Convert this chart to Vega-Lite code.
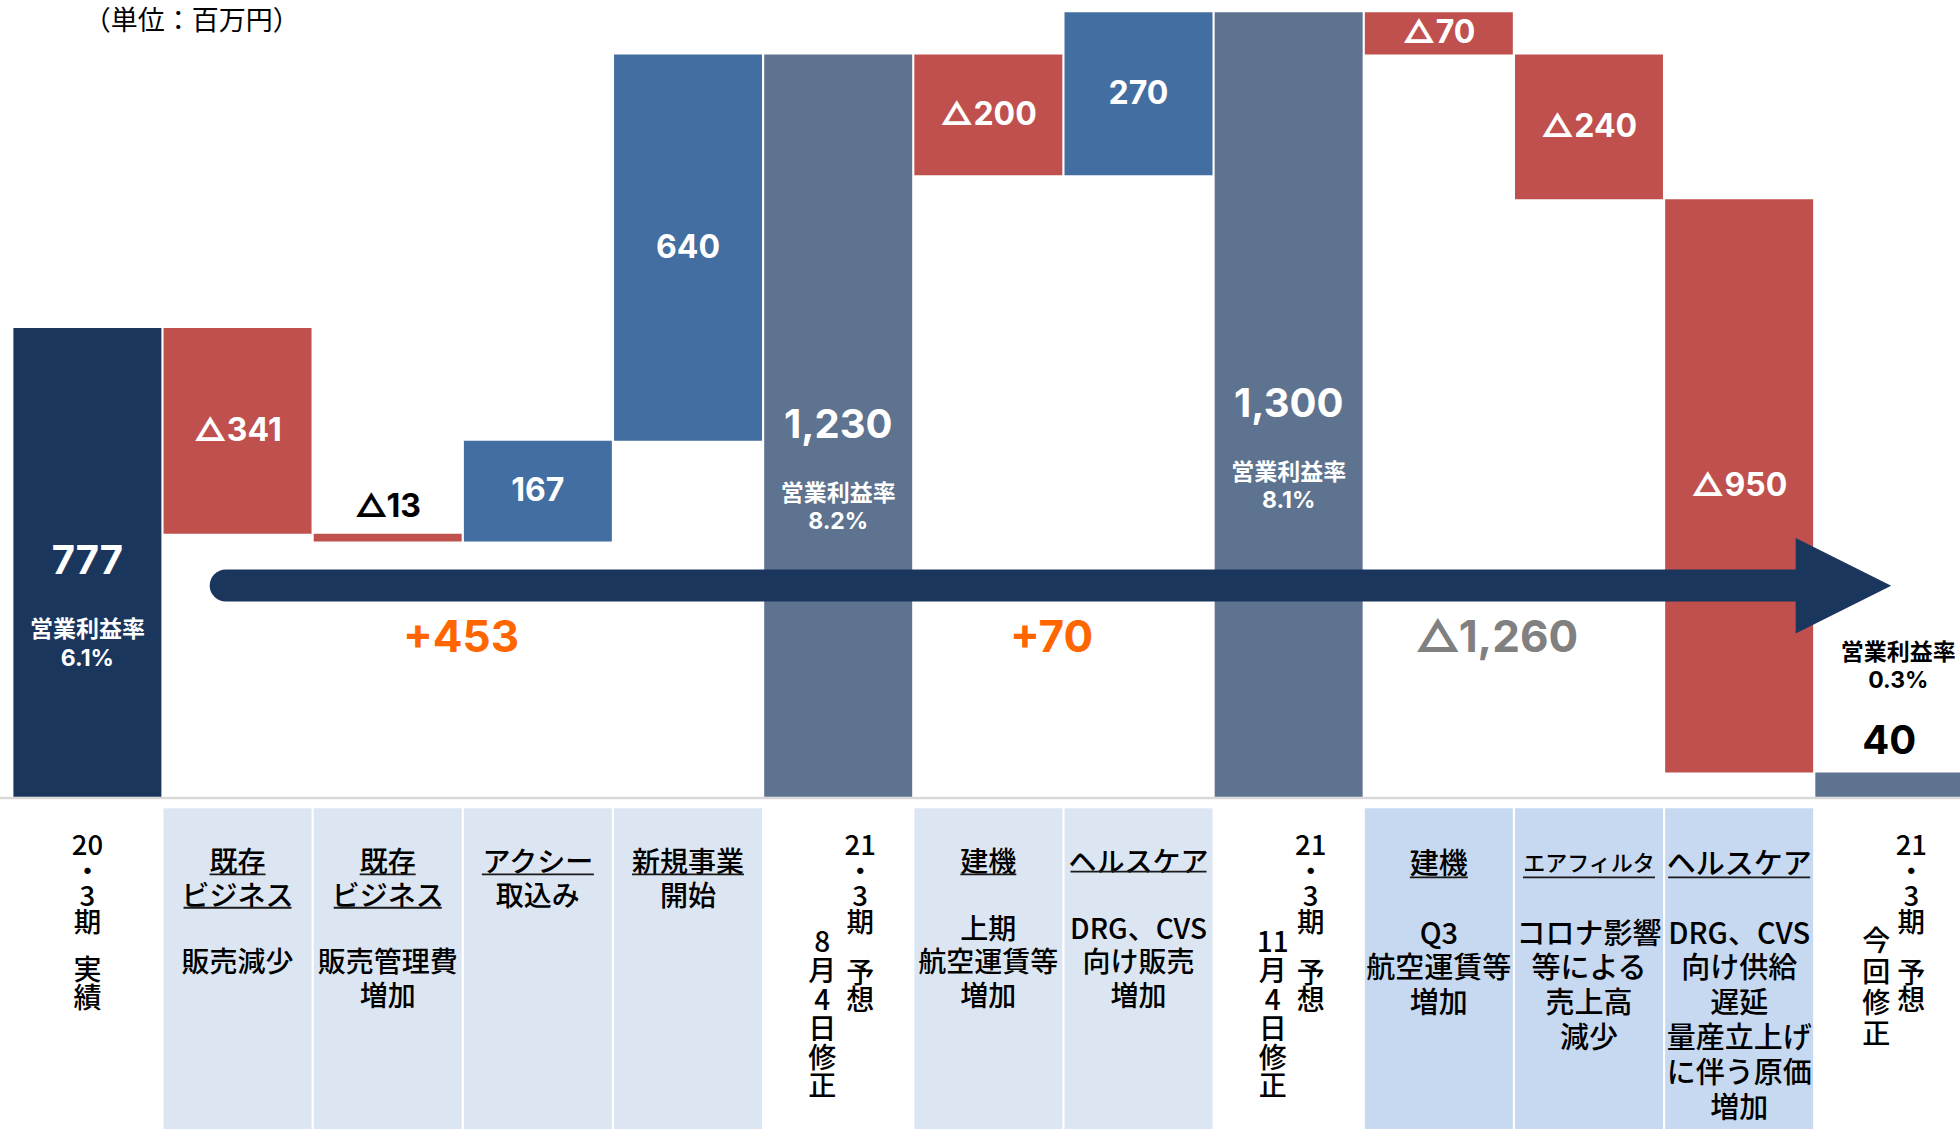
{
  "$schema": "https://vega.github.io/schema/vega-lite/v6.json",
  "width": 1960,
  "height": 1129,
  "padding": 0,
  "autosize": {"type": "none"},
  "background": "white",
  "config": {
    "view": {"stroke": null},
    "axis": {"disable": true},
    "legend": {"disable": true}
  },
  "datasets": {
    "bars": [
      {"n": 1, "kind": "実績", "start": 0, "end": 777, "label": "777", "rate": "営業利益率\n6.1%"},
      {"n": 2, "kind": "減少", "start": 777, "end": 436, "label": "△341"},
      {"n": 3, "kind": "減少", "start": 436, "end": 423, "label": "△13"},
      {"n": 4, "kind": "増加", "start": 423, "end": 590, "label": "167"},
      {"n": 5, "kind": "増加", "start": 590, "end": 1230, "label": "640"},
      {"n": 6, "kind": "予想", "start": 0, "end": 1230, "label": "1,230", "rate": "営業利益率\n8.2%"},
      {"n": 7, "kind": "減少", "start": 1230, "end": 1030, "label": "△200"},
      {"n": 8, "kind": "増加", "start": 1030, "end": 1300, "label": "270"},
      {"n": 9, "kind": "予想", "start": 0, "end": 1300, "label": "1,300", "rate": "営業利益率\n8.1%"},
      {"n": 10, "kind": "減少", "start": 1300, "end": 1230, "label": "△70"},
      {"n": 11, "kind": "減少", "start": 1230, "end": 990, "label": "△240"},
      {"n": 12, "kind": "減少", "start": 990, "end": 40, "label": "△950"},
      {"n": 13, "kind": "予想", "start": 0, "end": 40, "label": "40", "rate": "営業利益率\n0.3%"}
    ],
    "cats": [
      {"n": 2, "phase": "前回", "head": "既存\nビジネス", "body": "販売減少"},
      {"n": 3, "phase": "前回", "head": "既存\nビジネス", "body": "販売管理費\n増加"},
      {"n": 4, "phase": "前回", "head": "アクシー\n取込み"},
      {"n": 5, "phase": "前回", "head": "新規事業\n開始"},
      {"n": 7, "phase": "前回", "head": "建機", "body": "上期\n航空運賃等\n増加"},
      {"n": 8, "phase": "前回", "head": "ヘルスケア", "body": "DRG、CVS\n向け販売\n増加"},
      {"n": 10, "phase": "今回", "head": "建機", "body": "Q3\n航空運賃等\n増加"},
      {"n": 11, "phase": "今回", "head": "エアフィルタ", "body": "コロナ影響\n等による\n売上高\n減少"},
      {"n": 12, "phase": "今回", "head": "ヘルスケア", "body": "DRG、CVS\n向け供給\n遅延\n量産立上げ\nに伴う原価\n増加"}
    ],
    "periods": [
      {"n": 1, "part": "期", "text": "20\n・\n3\n期"},
      {"n": 1, "part": "区分", "text": "実\n績"},
      {"n": 6, "part": "期", "text": "21\n・\n3\n期"},
      {"n": 6, "part": "区分", "text": "予\n想"},
      {"n": 6, "part": "日付", "text": "8\n月\n4\n日\n修\n正"},
      {"n": 9, "part": "期", "text": "21\n・\n3\n期"},
      {"n": 9, "part": "区分", "text": "予\n想"},
      {"n": 9, "part": "日付", "text": "11\n月\n4\n日\n修\n正"},
      {"n": 13, "part": "期", "text": "21\n・\n3\n期"},
      {"n": 13, "part": "区分", "text": "予\n想"},
      {"n": 13, "part": "日付", "text": "今\n回\n修\n正"}
    ],
    "summary": [
      {"n": 3, "text": "+453"},
      {"n": 7, "text": "+70"},
      {"n": 10, "text": "△1,260"}
    ],
    "notes": [{"text": "（単位：百万円）"}]
  },
  "layer": [
    {
      "data": {"name": "cats"},
      "transform": [{"filter": "datum.phase === '前回'"}],
      "mark": {"type": "bar", "color": "#DCE6F2"},
      "encoding": {
        "x": {"field": "n", "type": "ordinal", "axis": null,
              "scale": {"type": "band", "range": [13.4, 1963.3], "paddingInner": 0.0145, "paddingOuter": 0}},
        "y": {"datum": -19.2, "type": "quantitative", "axis": null,
              "scale": {"domain": [-550.7, 1320.4], "nice": false, "zero": false}},
        "y2": {"datum": -560}
      }
    },
    {
      "data": {"name": "cats"},
      "transform": [{"filter": "datum.phase === '今回'"}],
      "mark": {"type": "bar", "color": "#C6D9F1"},
      "encoding": {
        "x": {"field": "n", "type": "ordinal", "axis": null},
        "y": {"datum": -19.2, "type": "quantitative", "axis": null},
        "y2": {"datum": -560}
      }
    },
    {
      "data": {"values": [{"item": "基準線"}]},
      "mark": {"type": "rule", "color": "#D9D9D9", "strokeWidth": 2.5},
      "encoding": {"y": {"datum": -2, "type": "quantitative", "axis": null}}
    },
    {
      "data": {"name": "bars"},
      "mark": {"type": "bar"},
      "encoding": {
        "x": {"field": "n", "type": "ordinal", "axis": null},
        "y": {"field": "start", "type": "quantitative", "axis": null},
        "y2": {"field": "end"},
        "color": {"field": "kind", "type": "nominal", "legend": null,
                  "scale": {"domain": ["実績", "増加", "減少", "予想"], "range": ["#1A365D", "#436EA1", "#C0504D", "#5E738F"]}}
      }
    },
    {
      "data": {"name": "bars"},
      "transform": [
        {"filter": "datum.n === 1 || datum.n === 6 || datum.n === 9"},
        {"fold": ["start", "end"], "as": ["k", "v"]},
        {"aggregate": [{"op": "mean", "field": "v", "as": "mid"}], "groupby": ["n", "label"]}
      ],
      "mark": {"type": "text", "font": "Inter, Noto Sans CJK JP", "fontWeight": "bold", "fontSize": 40, "color": "white", "baseline": "middle"},
      "encoding": {
        "x": {"field": "n", "type": "ordinal", "axis": null},
        "y": {"field": "mid", "type": "quantitative", "axis": null},
        "text": {"field": "label"}
      }
    },
    {
      "data": {"name": "bars"},
      "transform": [
        {"filter": "datum.n === 1 || datum.n === 6 || datum.n === 9"},
        {"fold": ["start", "end"], "as": ["k", "v"]},
        {"aggregate": [{"op": "mean", "field": "v", "as": "mid"}], "groupby": ["n", "rate"]}
      ],
      "mark": {"type": "text", "font": "Inter, Noto Sans CJK JP", "fontWeight": "bold", "fontSize": 23, "color": "white",
               "baseline": "alphabetic", "lineBreak": "\n", "lineHeight": 28.5, "dy": 75},
      "encoding": {
        "x": {"field": "n", "type": "ordinal", "axis": null},
        "y": {"field": "mid", "type": "quantitative", "axis": null},
        "text": {"field": "rate"}
      }
    },
    {
      "data": {"name": "bars"},
      "transform": [
        {"filter": "datum.kind === '増加' || (datum.kind === '減少' && datum.n !== 3)"},
        {"fold": ["start", "end"], "as": ["k", "v"]},
        {"aggregate": [{"op": "mean", "field": "v", "as": "mid"}], "groupby": ["n", "label"]}
      ],
      "mark": {"type": "text", "font": "Inter, Noto Sans CJK JP", "fontWeight": "bold", "fontSize": 32, "color": "white", "baseline": "middle"},
      "encoding": {
        "x": {"field": "n", "type": "ordinal", "axis": null},
        "y": {"field": "mid", "type": "quantitative", "axis": null},
        "text": {"field": "label"}
      }
    },
    {
      "data": {"name": "bars"},
      "transform": [
        {"filter": "datum.n === 3"},
        {"fold": ["start", "end"], "as": ["k", "v"]},
        {"aggregate": [{"op": "max", "field": "v", "as": "top"}], "groupby": ["n", "label"]}
      ],
      "mark": {"type": "text", "font": "Inter, Noto Sans CJK JP", "fontWeight": "bold", "fontSize": 32, "color": "black", "baseline": "middle", "dy": -26.6},
      "encoding": {
        "x": {"field": "n", "type": "ordinal", "axis": null},
        "y": {"field": "top", "type": "quantitative", "axis": null},
        "text": {"field": "label"}
      }
    },
    {
      "data": {"name": "bars"},
      "transform": [
        {"filter": "datum.n === 13"},
        {"fold": ["start", "end"], "as": ["k", "v"]},
        {"aggregate": [{"op": "max", "field": "v", "as": "top"}], "groupby": ["n", "label"]}
      ],
      "mark": {"type": "text", "font": "Inter, Noto Sans CJK JP", "fontWeight": "bold", "fontSize": 40, "color": "black", "baseline": "middle", "dy": -30.3},
      "encoding": {
        "x": {"field": "n", "type": "ordinal", "axis": null},
        "y": {"field": "top", "type": "quantitative", "axis": null},
        "text": {"field": "label"}
      }
    },
    {
      "data": {"name": "bars"},
      "transform": [
        {"filter": "datum.n === 13"},
        {"fold": ["start", "end"], "as": ["k", "v"]},
        {"aggregate": [{"op": "max", "field": "v", "as": "top"}], "groupby": ["n", "rate"]}
      ],
      "mark": {"type": "text", "font": "Inter, Noto Sans CJK JP", "fontWeight": "bold", "fontSize": 23, "color": "black",
               "baseline": "alphabetic", "lineBreak": "\n", "lineHeight": 28.6, "dy": -113, "dx": 9},
      "encoding": {
        "x": {"field": "n", "type": "ordinal", "axis": null},
        "y": {"field": "top", "type": "quantitative", "axis": null},
        "text": {"field": "rate"}
      }
    },
    {
      "data": {"values": [{"item": "推移"}]},
      "mark": {"type": "rule", "color": "#1A365D", "strokeWidth": 32, "strokeCap": "round"},
      "encoding": {
        "x": {"datum": 2, "type": "ordinal", "bandPosition": 0.42, "axis": null},
        "x2": {"datum": 12, "bandPosition": 0.884},
        "y": {"datum": 350, "type": "quantitative", "axis": null}
      }
    },
    {
      "data": {"values": [{"item": "推移"}]},
      "mark": {"type": "point", "shape": "M-1,-1L1,0L-1,1Z", "size": 9120, "filled": true, "color": "#1A365D", "opacity": 1, "strokeWidth": 0},
      "encoding": {
        "x": {"datum": 13, "type": "ordinal", "bandPosition": 0.19, "axis": null},
        "y": {"datum": 349.7, "type": "quantitative", "axis": null}
      }
    },
    {
      "data": {"name": "summary"},
      "transform": [{"filter": "datum.n === 3"}],
      "mark": {"type": "text", "font": "Inter, Noto Sans CJK JP", "fontWeight": "bold", "fontSize": 44, "color": "#FF6600", "baseline": "middle"},
      "encoding": {
        "x": {"field": "n", "type": "ordinal", "bandPosition": 0.995, "axis": null},
        "y": {"datum": 262, "type": "quantitative", "axis": null},
        "text": {"field": "text"}
      }
    },
    {
      "data": {"name": "summary"},
      "transform": [{"filter": "datum.n === 7"}],
      "mark": {"type": "text", "font": "Inter, Noto Sans CJK JP", "fontWeight": "bold", "fontSize": 44, "color": "#FF6600", "baseline": "middle"},
      "encoding": {
        "x": {"field": "n", "type": "ordinal", "bandPosition": 0.927, "axis": null},
        "y": {"datum": 262, "type": "quantitative", "axis": null},
        "text": {"field": "text"}
      }
    },
    {
      "data": {"name": "summary"},
      "transform": [{"filter": "datum.n === 10"}],
      "mark": {"type": "text", "font": "Inter, Noto Sans CJK JP", "fontWeight": "bold", "fontSize": 44, "color": "#808080", "baseline": "middle"},
      "encoding": {
        "x": {"field": "n", "type": "ordinal", "bandPosition": 0.89, "axis": null},
        "y": {"datum": 262, "type": "quantitative", "axis": null},
        "text": {"field": "text"}
      }
    },
    {
      "data": {"name": "cats"},
      "transform": [{"filter": "datum.phase === '前回'"}],
      "mark": {"type": "text", "font": "Noto Sans CJK JP", "fontWeight": 500, "fontSize": 28, "color": "black", "baseline": "alphabetic", "lineBreak": "\n", "lineHeight": 33.3},
      "encoding": {
        "x": {"field": "n", "type": "ordinal", "axis": null},
        "y": {"datum": -125.3, "type": "quantitative", "axis": null},
        "text": {"field": "head"}
      }
    },
    {
      "data": {"name": "cats"},
      "transform": [{"filter": "datum.n === 2 || datum.n === 3"}],
      "mark": {"type": "text", "font": "Noto Sans CJK JP", "fontWeight": 500, "fontSize": 28, "color": "black", "baseline": "alphabetic", "lineBreak": "\n", "lineHeight": 33.3, "dy": 99.9},
      "encoding": {
        "x": {"field": "n", "type": "ordinal", "axis": null},
        "y": {"datum": -125.3, "type": "quantitative", "axis": null},
        "text": {"field": "body"}
      }
    },
    {
      "data": {"name": "cats"},
      "transform": [{"filter": "datum.n === 7 || datum.n === 8"}],
      "mark": {"type": "text", "font": "Noto Sans CJK JP", "fontWeight": 500, "fontSize": 28, "color": "black", "baseline": "alphabetic", "lineBreak": "\n", "lineHeight": 33.3, "dy": 66.6},
      "encoding": {
        "x": {"field": "n", "type": "ordinal", "axis": null},
        "y": {"datum": -125.3, "type": "quantitative", "axis": null},
        "text": {"field": "body"}
      }
    },
    {
      "data": {"name": "cats"},
      "transform": [{"filter": "datum.phase === '今回' && datum.n !== 11"}],
      "mark": {"type": "text", "font": "Noto Sans CJK JP", "fontWeight": 500, "fontSize": 29, "color": "black", "baseline": "alphabetic"},
      "encoding": {
        "x": {"field": "n", "type": "ordinal", "axis": null},
        "y": {"datum": -128.1, "type": "quantitative", "axis": null},
        "text": {"field": "head"}
      }
    },
    {
      "data": {"name": "cats"},
      "transform": [{"filter": "datum.n === 11"}],
      "mark": {"type": "text", "font": "Noto Sans CJK JP", "fontWeight": 500, "fontSize": 22, "color": "black", "baseline": "alphabetic", "dy": -3},
      "encoding": {
        "x": {"field": "n", "type": "ordinal", "axis": null},
        "y": {"datum": -128.1, "type": "quantitative", "axis": null},
        "text": {"field": "head"}
      }
    },
    {
      "data": {"name": "cats"},
      "transform": [{"filter": "datum.phase === '今回'"}],
      "mark": {"type": "text", "font": "Noto Sans CJK JP", "fontWeight": 500, "fontSize": 29, "color": "black", "baseline": "alphabetic", "lineBreak": "\n", "lineHeight": 34.8, "dy": 69.6},
      "encoding": {
        "x": {"field": "n", "type": "ordinal", "axis": null},
        "y": {"datum": -128.1, "type": "quantitative", "axis": null},
        "text": {"field": "body"}
      }
    },
    {
      "data": {"name": "cats"},
      "transform": [{"filter": "datum.n === 2 || datum.n === 3 || datum.n === 7"}],
      "mark": {"type": "rule", "color": "#1A1A1A", "strokeWidth": 1.8, "xOffset": -28, "x2Offset": 28},
      "encoding": {
        "x": {"field": "n", "type": "ordinal", "bandPosition": 0.5, "axis": null},
        "x2": {"field": "n", "bandPosition": 0.5},
        "y": {"datum": -128.6, "type": "quantitative", "axis": null}
      }
    },
    {
      "data": {"name": "cats"},
      "transform": [{"filter": "datum.n === 2 || datum.n === 3"}],
      "mark": {"type": "rule", "color": "#1A1A1A", "strokeWidth": 1.8, "xOffset": -54, "x2Offset": 54},
      "encoding": {
        "x": {"field": "n", "type": "ordinal", "bandPosition": 0.5, "axis": null},
        "x2": {"field": "n", "bandPosition": 0.5},
        "y": {"datum": -184, "type": "quantitative", "axis": null}
      }
    },
    {
      "data": {"name": "cats"},
      "transform": [{"filter": "datum.n === 4 || datum.n === 5"}],
      "mark": {"type": "rule", "color": "#1A1A1A", "strokeWidth": 1.8, "xOffset": -56, "x2Offset": 56},
      "encoding": {
        "x": {"field": "n", "type": "ordinal", "bandPosition": 0.5, "axis": null},
        "x2": {"field": "n", "bandPosition": 0.5},
        "y": {"datum": -128.6, "type": "quantitative", "axis": null}
      }
    },
    {
      "data": {"name": "cats"},
      "transform": [{"filter": "datum.n === 8"}],
      "mark": {"type": "rule", "color": "#1A1A1A", "strokeWidth": 1.8, "xOffset": -68, "x2Offset": 68},
      "encoding": {
        "x": {"field": "n", "type": "ordinal", "bandPosition": 0.5, "axis": null},
        "x2": {"field": "n", "bandPosition": 0.5},
        "y": {"datum": -124, "type": "quantitative", "axis": null}
      }
    },
    {
      "data": {"name": "cats"},
      "transform": [{"filter": "datum.n === 10"}],
      "mark": {"type": "rule", "color": "#1A1A1A", "strokeWidth": 1.8, "xOffset": -29, "x2Offset": 29},
      "encoding": {
        "x": {"field": "n", "type": "ordinal", "bandPosition": 0.5, "axis": null},
        "x2": {"field": "n", "bandPosition": 0.5},
        "y": {"datum": -133.6, "type": "quantitative", "axis": null}
      }
    },
    {
      "data": {"name": "cats"},
      "transform": [{"filter": "datum.n === 11"}],
      "mark": {"type": "rule", "color": "#1A1A1A", "strokeWidth": 1.8, "xOffset": -66, "x2Offset": 66},
      "encoding": {
        "x": {"field": "n", "type": "ordinal", "bandPosition": 0.5, "axis": null},
        "x2": {"field": "n", "bandPosition": 0.5},
        "y": {"datum": -133.6, "type": "quantitative", "axis": null}
      }
    },
    {
      "data": {"name": "cats"},
      "transform": [{"filter": "datum.n === 12"}],
      "mark": {"type": "rule", "color": "#1A1A1A", "strokeWidth": 1.8, "xOffset": -71, "x2Offset": 71},
      "encoding": {
        "x": {"field": "n", "type": "ordinal", "bandPosition": 0.5, "axis": null},
        "x2": {"field": "n", "bandPosition": 0.5},
        "y": {"datum": -133.6, "type": "quantitative", "axis": null}
      }
    },
    {
      "data": {"name": "periods"},
      "transform": [{"filter": "datum.part === '期' && datum.n === 1"}],
      "mark": {"type": "text", "font": "Noto Sans CJK JP", "fontWeight": 500, "fontSize": 27.5, "color": "black", "baseline": "alphabetic", "lineBreak": "\n", "lineHeight": 25.5},
      "encoding": {
        "x": {"field": "n", "type": "ordinal", "axis": null},
        "y": {"datum": -97.3, "type": "quantitative", "axis": null},
        "text": {"field": "text"}
      }
    },
    {
      "data": {"name": "periods"},
      "transform": [{"filter": "datum.part === '期' && datum.n !== 1"}],
      "mark": {"type": "text", "font": "Noto Sans CJK JP", "fontWeight": 500, "fontSize": 27.5, "color": "black", "baseline": "alphabetic", "lineBreak": "\n", "lineHeight": 25.5, "dx": 22},
      "encoding": {
        "x": {"field": "n", "type": "ordinal", "axis": null},
        "y": {"datum": -97.3, "type": "quantitative", "axis": null},
        "text": {"field": "text"}
      }
    },
    {
      "data": {"name": "periods"},
      "transform": [{"filter": "datum.part === '区分' && datum.n === 1"}],
      "mark": {"type": "text", "font": "Noto Sans CJK JP", "fontWeight": 500, "fontSize": 28, "color": "black", "baseline": "alphabetic", "lineBreak": "\n", "lineHeight": 28, "dy": 125},
      "encoding": {
        "x": {"field": "n", "type": "ordinal", "axis": null},
        "y": {"datum": -97.3, "type": "quantitative", "axis": null},
        "text": {"field": "text"}
      }
    },
    {
      "data": {"name": "periods"},
      "transform": [{"filter": "datum.part === '区分' && datum.n !== 1"}],
      "mark": {"type": "text", "font": "Noto Sans CJK JP", "fontWeight": 500, "fontSize": 28, "color": "black", "baseline": "alphabetic", "lineBreak": "\n", "lineHeight": 27, "dy": 128, "dx": 22},
      "encoding": {
        "x": {"field": "n", "type": "ordinal", "axis": null},
        "y": {"datum": -97.3, "type": "quantitative", "axis": null},
        "text": {"field": "text"}
      }
    },
    {
      "data": {"name": "periods"},
      "transform": [{"filter": "datum.part === '日付' && datum.n !== 13"}],
      "mark": {"type": "text", "font": "Noto Sans CJK JP", "fontWeight": 500, "fontSize": 28, "color": "black", "baseline": "alphabetic", "lineBreak": "\n", "lineHeight": 28.8, "dx": -16},
      "encoding": {
        "x": {"field": "n", "type": "ordinal", "axis": null},
        "y": {"datum": -258, "type": "quantitative", "axis": null},
        "text": {"field": "text"}
      }
    },
    {
      "data": {"name": "periods"},
      "transform": [{"filter": "datum.part === '日付' && datum.n === 13"}],
      "mark": {"type": "text", "font": "Noto Sans CJK JP", "fontWeight": 500, "fontSize": 28, "color": "black", "baseline": "alphabetic", "lineBreak": "\n", "lineHeight": 31, "dx": -13},
      "encoding": {
        "x": {"field": "n", "type": "ordinal", "axis": null},
        "y": {"datum": -255.7, "type": "quantitative", "axis": null},
        "text": {"field": "text"}
      }
    },
    {
      "data": {"name": "notes"},
      "mark": {"type": "text", "font": "Noto Sans CJK JP", "fontSize": 27, "color": "black", "baseline": "middle", "align": "center"},
      "encoding": {
        "x": {"datum": 2, "type": "ordinal", "bandPosition": 0.19, "axis": null},
        "y": {"datum": 1284, "type": "quantitative", "axis": null},
        "text": {"field": "text"}
      }
    }
  ]
}
